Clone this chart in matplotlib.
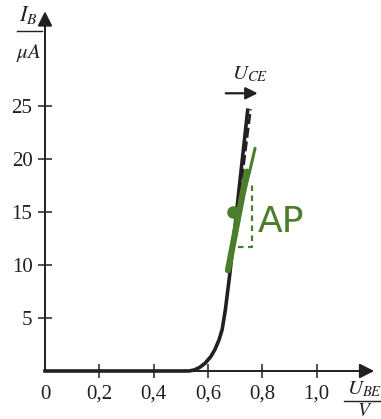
import matplotlib
matplotlib.use('Agg')
import matplotlib.pyplot as plt

plt.rcParams['font.family'] = 'Liberation Serif'
plt.rcParams['mathtext.fontset'] = 'stix'

# input characteristic I_B(U_BE)
u_be = [0, 0.53, 0.55, 0.57, 0.59, 0.61, 0.625, 0.64, 0.652, 0.664, 0.68, 0.746]
i_b = [0, 0, 0.1, 0.35, 0.75, 1.35, 2.0, 2.9, 3.9, 5.8, 9.1, 24.6]

# second characteristic (other U_CE), dashed
u_dash = [0.70, 0.757]
i_dash = [13.0, 24.7]

# green tangent at the operating point
u_green = [0.6735, 0.743]
i_green = [9.5, 18.8]
u_green_thin = [0.735, 0.755, 0.773]
i_green_thin = [17.0, 19.0, 21.0]
ap_u, ap_i = 0.692, 15.0
tri_u = [0.710, 0.762, 0.762]
tri_i = [11.7, 11.7, 17.8]

xticks = [0, 0.2, 0.4, 0.6, 0.8, 1.0]
xlabels = ['0', '0,2', '0,4', '0,6', '0,8', '1,0']
yticks = [5, 10, 15, 20, 25]

dark = '#231f20'
green = '#4b7d2b'

fig = plt.figure(figsize=(3.81, 4.19), dpi=100)
ax = fig.add_axes([0, 0, 1, 1])
ax.set_xlim(-0.1656, 1.2367)
ax.set_ylim(-4.53, 35.0)
ax.patch.set_visible(False)

for s in ['top', 'right']:
    ax.spines[s].set_visible(False)
ax.spines['left'].set_position(('data', 0))
ax.spines['bottom'].set_position(('data', 0))
ax.spines['left'].set_bounds(0, 32.5)
ax.spines['bottom'].set_bounds(0, 1.17)
for s in ['left', 'bottom']:
    ax.spines[s].set_linewidth(1.4)
    ax.spines[s].set_color(dark)

ax.set_xticks(xticks, xlabels)
ax.set_yticks(yticks, [str(v) for v in yticks])
ax.tick_params(direction='inout', length=10, width=1.1, color=dark,
               labelsize=15, labelcolor=dark)
ax.tick_params(axis='x', pad=5)
ax.tick_params(axis='y', pad=4)
ax.xaxis.get_major_ticks()[0].tick1line.set_visible(False)

# axis arrows
ax.annotate('', xy=(0, 34.2), xytext=(0, 31.5),
            arrowprops=dict(arrowstyle='-|>', color=dark, lw=1.4,
                            mutation_scale=22))
ax.annotate('', xy=(1.222, 0), xytext=(1.15, 0),
            arrowprops=dict(arrowstyle='-|>', color=dark, lw=1.4,
                            mutation_scale=22))

# axis labels as fractions
ax.text(-0.062, 33.6, r'$I_B$', fontsize=16, ha='center', va='center', color=dark)
ax.plot([-0.103, -0.01], [32.1, 32.1], color=dark, lw=1.0, clip_on=False)
ax.text(-0.060, 30.0, r'$\mu A$', fontsize=15, ha='center', va='center', color=dark)

ax.text(1.176, -1.7, r'$U_{BE}$', fontsize=15, ha='center', va='center', color=dark)
ax.plot([1.1, 1.24], [-2.8, -2.8], color=dark, lw=1.0, clip_on=False)
ax.text(1.176, -3.85, r'$V$', fontsize=14, ha='center', va='center', color=dark)

# U_CE arrow
ax.text(0.753, 28.0, r'$U_{CE}$', fontsize=15, ha='center', va='center', color=dark)
ax.annotate('', xy=(0.793, 26.2), xytext=(0.655, 26.2),
            arrowprops=dict(arrowstyle='-|>', color=dark, lw=1.6,
                            mutation_scale=18))

# curves
ax.plot(u_be, i_b, color=dark, lw=2.6, solid_joinstyle='round')
ax.plot(u_dash, i_dash, color=dark, lw=1.8, ls=(0, (4, 1.5)))

ax.plot(u_green, i_green, color=green, lw=4.5, solid_capstyle='round')
ax.plot(u_green_thin, i_green_thin, color=green, lw=2.2, solid_capstyle='round')
ax.plot([ap_u], [ap_i], 'o', color=green, ms=8)
ax.plot(tri_u, tri_i, color=green, lw=1.6, ls=(0, (2.5, 2)))
ax.text(0.868, 14.1, 'AP', fontsize=26, ha='center', va='center', color=green,
        family='DejaVu Sans')

fig.savefig('out.png', dpi=100)
